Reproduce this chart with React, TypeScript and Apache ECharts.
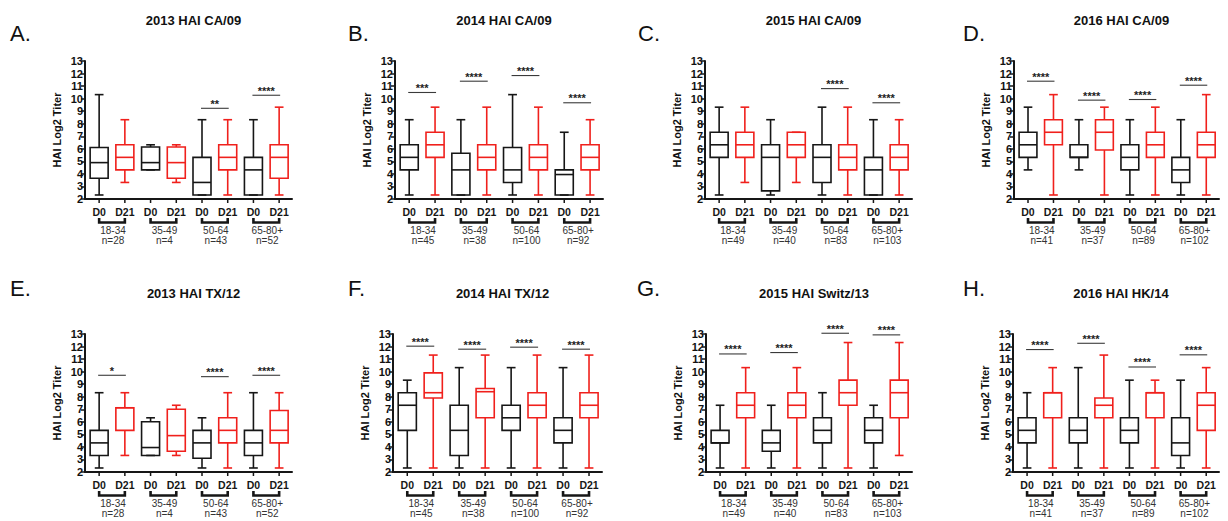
import React, { useEffect, useRef } from 'react';
import * as echarts from 'echarts';

const FONT = '"Liberation Sans", Arial, Helvetica, sans-serif';
const BLACK = '#161616';
const RED = '#f0201c';

const ageGroups = ['18-34', '35-49', '50-64', '65-80+'];
const dayLabels = ['D0', 'D21'];

const titles = [
  '2013 HAI CA/09', '2014 HAI CA/09', '2015 HAI CA/09', '2016 HAI CA/09',
  '2013 HAI TX/12', '2014 HAI TX/12', '2015 HAI Switz/13', '2016 HAI HK/14',
];
const letters = ['A.', 'B.', 'C.', 'D.', 'E.', 'F.', 'G.', 'H.'];

// each box: [min, q1, median, q3, max]; order: 18-34 D0, 18-34 D21, 35-49 D0, ...
const boxA = [
  [2.32, 3.65, 4.9, 6.1, 10.32], [3.32, 4.32, 5.32, 6.32, 8.32],
  [4.32, 4.32, 4.9, 6.15, 6.32], [3.32, 3.65, 4.9, 6.15, 6.32],
  [2.32, 2.32, 3.32, 5.32, 8.32], [2.32, 4.32, 5.32, 6.32, 8.32],
  [2.32, 2.32, 4.32, 5.32, 8.32], [2.32, 3.65, 5.32, 6.32, 9.32],
];
const boxB = [
  [2.32, 4.32, 5.32, 6.32, 8.32], [2.32, 5.32, 6.32, 7.32, 9.32],
  [2.32, 2.32, 4.32, 5.65, 8.32], [2.32, 4.32, 5.32, 6.32, 9.32],
  [2.32, 3.32, 4.32, 6.1, 10.32], [2.32, 4.32, 5.32, 6.32, 9.32],
  [2.32, 2.32, 3.95, 4.32, 7.32], [2.32, 4.32, 5.32, 6.32, 8.32],
];
const boxC = [
  [2.32, 5.32, 6.32, 7.32, 9.32], [3.32, 5.32, 6.32, 7.32, 9.32],
  [2.32, 2.65, 5.32, 6.32, 8.32], [3.32, 5.32, 6.32, 7.32, 7.32],
  [2.32, 3.32, 5.32, 6.32, 9.32], [2.32, 4.32, 5.32, 6.32, 9.32],
  [2.32, 2.32, 4.32, 5.32, 8.32], [2.32, 4.32, 5.32, 6.32, 8.32],
];
const boxD = [
  [4.32, 5.32, 6.32, 7.32, 9.32], [2.32, 6.32, 7.32, 8.32, 10.32],
  [4.32, 5.32, 5.32, 6.32, 8.32], [2.32, 5.9, 7.32, 8.32, 9.32],
  [2.32, 4.32, 5.32, 6.32, 8.32], [2.32, 5.32, 6.32, 7.32, 9.32],
  [2.32, 3.32, 4.32, 5.32, 8.32], [2.32, 5.32, 6.32, 7.32, 10.32],
];
const boxE = [
  [2.32, 3.32, 4.32, 5.32, 8.32], [3.32, 5.32, 7.12, 7.12, 8.32],
  [3.32, 3.32, 3.95, 6.0, 6.32], [3.32, 3.65, 4.9, 7.0, 7.32],
  [2.32, 3.1, 4.32, 5.32, 6.32], [2.32, 4.32, 5.32, 6.32, 8.32],
  [2.32, 3.32, 4.32, 5.32, 8.32], [2.32, 4.32, 5.32, 6.9, 8.32],
];
const boxF = [
  [2.32, 5.32, 7.32, 8.32, 9.32], [2.32, 7.9, 8.32, 9.9, 11.32],
  [2.32, 3.32, 5.32, 7.32, 10.32], [2.32, 6.32, 8.4, 8.65, 11.32],
  [2.32, 5.32, 6.32, 7.32, 10.32], [2.32, 6.32, 7.32, 8.32, 11.32],
  [2.32, 4.32, 5.32, 6.32, 10.32], [2.32, 6.32, 7.32, 8.32, 11.32],
];
const boxG = [
  [2.32, 4.32, 4.32, 5.32, 7.32], [2.32, 6.32, 7.32, 8.32, 10.32],
  [2.32, 3.65, 4.32, 5.32, 7.32], [2.32, 6.32, 7.32, 8.32, 10.32],
  [2.32, 4.32, 5.32, 6.32, 8.32], [2.32, 7.32, 8.32, 9.32, 12.32],
  [2.32, 4.32, 5.32, 6.32, 7.32], [3.32, 6.32, 8.32, 9.32, 12.32],
];
const boxH = [
  [2.32, 4.32, 5.32, 6.32, 8.32], [2.32, 6.32, 8.32, 8.32, 10.32],
  [2.32, 4.32, 5.32, 6.32, 10.32], [2.32, 6.32, 7.32, 7.9, 11.32],
  [2.32, 4.32, 5.32, 6.32, 9.32], [2.32, 6.32, 8.32, 8.32, 9.32],
  [2.32, 3.32, 4.32, 6.32, 9.32], [2.32, 5.32, 7.32, 8.32, 10.32],
];

const nA = [28, 4, 43, 52];
const nB = [45, 38, 100, 92];
const nC = [49, 40, 83, 103];
const nD = [41, 37, 89, 102];
const nE = [28, 4, 43, 52];
const nF = [45, 38, 100, 92];
const nG = [49, 40, 83, 103];
const nH = [41, 37, 89, 102];

// significance bars: [age group index, height (log2 titer), label]
const sigA: [number, number, string][] = [[2, 9.23, '**'], [3, 10.27, '****']];
const sigB: [number, number, string][] = [[0, 10.49, '***'], [1, 11.39, '****'], [2, 11.84, '****'], [3, 9.67, '****']];
const sigC: [number, number, string][] = [[2, 10.8, '****'], [3, 9.67, '****']];
const sigD: [number, number, string][] = [[0, 11.39, '****'], [1, 9.88, '****'], [2, 9.93, '****'], [3, 11.07, '****']];
const sigE: [number, number, string][] = [[0, 9.71, '*'], [2, 9.6, '****'], [3, 9.71, '****']];
const sigF: [number, number, string][] = [[0, 12.03, '****'], [1, 11.79, '****'], [2, 11.95, '****'], [3, 11.79, '****']];
const sigG: [number, number, string][] = [[0, 11.41, '****'], [1, 11.52, '****'], [2, 13.06, '****'], [3, 12.93, '****']];
const sigH: [number, number, string][] = [[0, 11.76, '****'], [1, 12.26, '****'], [2, 10.37, '****'], [3, 11.34, '****']];

const boxes = [boxA, boxB, boxC, boxD, boxE, boxF, boxG, boxH];
const ns = [nA, nB, nC, nD, nE, nF, nG, nH];
const sigs = [sigA, sigB, sigC, sigD, sigE, sigF, sigG, sigH];

// layout
const panelLeft = [85, 395, 705, 1014, 85, 393, 706, 1013];
const panelWidth = [207, 208, 207, 205, 207, 209, 206, 206];
const rowTop = [61, 334];
const plotHeight = 138;
const letterX = [10, 348, 638, 963, 10, 348, 637, 963];
const letterY = [33, 33, 33, 33, 288, 288, 288, 288];
const titleY = [9, 282];

function txt(x: number, y: number, text: string, font: string, fill: string, align = 'center', vAlign = 'middle') {
  return {
    type: 'text',
    x,
    y,
    style: { text, font, fill, align, verticalAlign: vAlign, textAlign: align, textVerticalAlign: vAlign },
  };
}

function makeBoxRender(nList: number[]) {
  return (params: any, api: any) => {
    const k = api.value(0);
    const v = [1, 2, 3, 4, 5].map((j) => api.value(j));
    const p = v.map((val) => api.coord([k, val])[1]);
    const cx = api.coord([k, v[0]])[0];
    const bw = api.size([1, 0])[0];
    const half = bw * 0.35;
    const cap = bw * 0.17;
    const color = k % 2 === 0 ? BLACK : RED;
    const base = api.coord([k, 2])[1];
    const ls = { stroke: color, lineWidth: 1.6, fill: 'none' };
    const children: any[] = [
      { type: 'line', shape: { x1: cx, y1: p[0], x2: cx, y2: p[1] }, style: ls },
      { type: 'line', shape: { x1: cx, y1: p[3], x2: cx, y2: p[4] }, style: ls },
      { type: 'line', shape: { x1: cx - cap, y1: p[0], x2: cx + cap, y2: p[0] }, style: ls },
      { type: 'line', shape: { x1: cx - cap, y1: p[4], x2: cx + cap, y2: p[4] }, style: ls },
      { type: 'rect', shape: { x: cx - half, y: p[3], width: 2 * half, height: p[1] - p[3] }, style: ls },
      { type: 'line', shape: { x1: cx - half, y1: p[2], x2: cx + half, y2: p[2] }, style: ls },
      { type: 'line', shape: { x1: cx, y1: base + 1, x2: cx, y2: base + 4 }, style: { stroke: BLACK, lineWidth: 1.5 } },
      txt(cx, base + 13, dayLabels[k % 2], `bold 10.5px ${FONT}`, BLACK),
    ];
    if (k % 2 === 0) {
      const cx2 = api.coord([k + 1, 2])[0];
      const g = k / 2;
      children.push({
        type: 'polyline',
        shape: { points: [[cx, base + 19], [cx, base + 23.5], [cx2, base + 23.5], [cx2, base + 19]] },
        style: { stroke: BLACK, lineWidth: 2.6, fill: 'none' },
      });
      children.push(txt((cx + cx2) / 2 + 1, base + 31.5, ageGroups[g], `10px ${FONT}`, '#333'));
      children.push(txt((cx + cx2) / 2 + 1, base + 41.5, `n=${nList[g]}`, `10px ${FONT}`, '#333'));
    }
    return { type: 'group', children };
  };
}

function makeSigRender(sig: [number, number, string][]) {
  return (params: any, api: any) => {
    const s = sig[params.dataIndex];
    const g = api.value(0);
    const y = api.value(1);
    const a = api.coord([2 * g, y]);
    const b = api.coord([2 * g + 1, y]);
    return {
      type: 'group',
      children: [
        { type: 'line', shape: { x1: a[0] - 1, y1: a[1], x2: b[0] + 1, y2: a[1] }, style: { stroke: '#3a3a3a', lineWidth: 1.1 } },
        txt((a[0] + b[0]) / 2, a[1] - 4.5, s[2], `bold 11px ${FONT}`, '#222'),
      ],
    };
  };
}

export default function App() {
  const ref = useRef<HTMLDivElement>(null);
  useEffect(() => {
    if (!ref.current) return;
    const chart = echarts.init(ref.current, null, { renderer: 'svg' });
    const idx = [0, 1, 2, 3, 4, 5, 6, 7];
    const option: any = {
      animation: false,
      backgroundColor: '#ffffff',
      title: idx.map((i) => ({
        text: titles[i],
        left: panelLeft[i] + panelWidth[i] / 2,
        top: titleY[Math.floor(i / 4)],
        textAlign: 'center',
        textStyle: { fontFamily: FONT, fontWeight: 'bold', fontSize: 13, color: '#111' },
      })),
      graphic: idx.map((i) => ({
        type: 'text',
        x: letterX[i],
        y: letterY[i],
        style: { text: letters[i], font: `22px ${FONT}`, fill: '#111', verticalAlign: 'middle', textVerticalAlign: 'middle' },
      })),
      grid: idx.map((i) => ({
        left: panelLeft[i],
        top: rowTop[Math.floor(i / 4)],
        width: panelWidth[i],
        height: plotHeight,
      })),
      xAxis: idx.map((i) => ({
        gridIndex: i,
        type: 'value',
        min: -0.55,
        max: 7.5,
        axisLine: { show: true, onZero: false, lineStyle: { color: BLACK, width: 2 } },
        axisTick: { show: false },
        axisLabel: { show: false },
        splitLine: { show: false },
      })),
      yAxis: idx.map((i) => ({
        gridIndex: i,
        type: 'value',
        min: 2,
        max: 13,
        interval: 1,
        name: 'HAI Log2 Titer',
        nameLocation: 'middle',
        nameGap: 23,
        nameTextStyle: { fontFamily: FONT, fontWeight: 'bold', fontSize: 11, color: '#111' },
        axisLine: { show: true, onZero: false, lineStyle: { color: BLACK, width: 2 } },
        axisTick: { show: true, length: 4, lineStyle: { color: BLACK, width: 1.5 } },
        axisLabel: { fontFamily: FONT, fontWeight: 'bold', fontSize: 11, color: '#111', margin: 2 },
        splitLine: { show: false },
      })),
      series: [
        ...idx.map((i) => ({
          type: 'custom',
          xAxisIndex: i,
          yAxisIndex: i,
          clip: false,
          silent: true,
          encode: { x: 0, y: [1, 2, 3, 4, 5] },
          data: boxes[i].map((b, k) => [k, ...b]),
          renderItem: makeBoxRender(ns[i]),
        })),
        ...idx.map((i) => ({
          type: 'custom',
          xAxisIndex: i,
          yAxisIndex: i,
          clip: false,
          silent: true,
          encode: { x: 0, y: 1 },
          data: sigs[i].map((s) => [s[0], s[1]]),
          renderItem: makeSigRender(sigs[i]),
        })),
      ],
    };
    chart.setOption(option);
    return () => chart.dispose();
  }, []);
  return (
    <div
      ref={ref}
      style={{ position: 'fixed', left: 0, top: 0, width: 1228, height: 521, background: '#fff' }}
    />
  );
}
